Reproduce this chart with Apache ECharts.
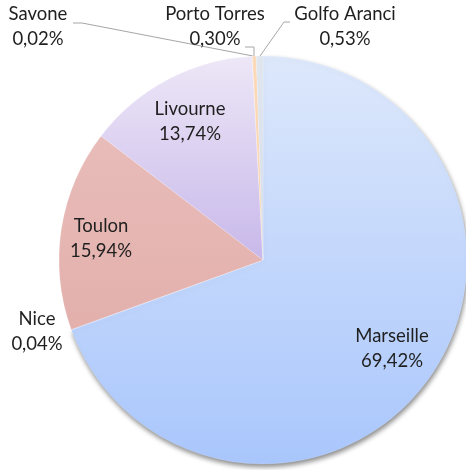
<!DOCTYPE html>
<html>
<head>
<meta charset="utf-8">
<script src="https://cdn.jsdelivr.net/npm/echarts@6/dist/echarts.min.js"></script>
<style>
  html, body { margin: 0; padding: 0; background: #fff; }
  #main { width: 466px; height: 470px; }
</style>
</head>
<body>
<div id="main"></div>
<script>
var ports = ['Marseille', 'Nice', 'Toulon', 'Livourne', 'Savone', 'Porto Torres', 'Golfo Aranci'];
var shares = [69.42, 0.04, 15.94, 13.74, 0.02, 0.30, 0.53];

// top / bottom colour of each slice's gradient
var colorsTop = ['#dde8fb', '#dde8fb', '#e8bcb9', '#ede7f7', '#e3efdc', '#fcd9b9', '#e0e6ee'];
var colorsBottom = ['#a9c6fc', '#a9c6fc', '#e3b0ac', '#c8b8ea', '#d5e8cc', '#f9d0ab', '#d6dde9'];

// where each label sits (centre of the two text lines) and its leader line
var labelSpots = {
    'Marseille':    { x: 392, y: 349 },
    'Nice':         { x: 37,  y: 332 },
    'Toulon':       { x: 101, y: 239 },
    'Livourne':     { x: 190, y: 122 },
    'Savone':       { x: 38,  y: 27, line: [[253, 56], [82, 23], [73, 23]] },
    'Porto Torres': { x: 215, y: 27, line: [[254, 56], [254, 47], [245, 47]] },
    'Golfo Aranci': { x: 345, y: 27, line: [[260, 56], [284, 22], [290, 22]] }
};

var myChart = echarts.init(document.getElementById('main'), null, { renderer: 'canvas' });

function fmt(v) {
    return v.toFixed(2).replace('.', ',') + '%';
}

var seriesData = [];
ports.forEach(function (name, i) {
    var item = {
        name: name,
        value: shares[i],
        itemStyle: {
            color: new echarts.graphic.LinearGradient(0, 0, 0, 1, [
                { offset: 0, color: colorsTop[i] },
                { offset: 1, color: colorsBottom[i] }
            ])
        },
        labelLine: { show: !!labelSpots[name].line }
    };
    if (name === 'Marseille') {
        item.itemStyle.shadowBlur = 5;
        item.itemStyle.shadowOffsetX = 1;
        item.itemStyle.shadowOffsetY = 3;
        item.itemStyle.shadowColor = 'rgba(0, 0, 0, 0.45)';
    }
    seriesData.push(item);
});

var option = {
    animation: false,
    backgroundColor: '#ffffff',
    series: [
        {
            type: 'pie',
            center: [263, 260],
            radius: 204,
            startAngle: 90,
            clockwise: true,
            avoidLabelOverlap: false,
            data: seriesData,
            itemStyle: {
                borderColor: 'rgba(255, 255, 255, 0.3)',
                borderWidth: 0.5
            },
            label: {
                show: true,
                position: 'outside',
                fontFamily: 'Lato',
                fontSize: 18.5,
                lineHeight: 25,
                color: '#1f1f1f',
                align: 'center',
                formatter: function (p) {
                    return p.name + '\n' + fmt(p.value);
                }
            },
            labelLine: {
                lineStyle: { color: '#a6a6a6', width: 1 },
                length: 10,
                length2: 10
            },
            labelLayout: function (p) {
                var spot = labelSpots[ports[p.dataIndex]];
                var res = {
                    x: spot.x,
                    y: spot.y,
                    align: 'center',
                    verticalAlign: 'middle'
                };
                if (spot.line) {
                    res.labelLinePoints = spot.line;
                }
                return res;
            }
        }
    ]
};
myChart.setOption(option);
</script>
</body>
</html>
